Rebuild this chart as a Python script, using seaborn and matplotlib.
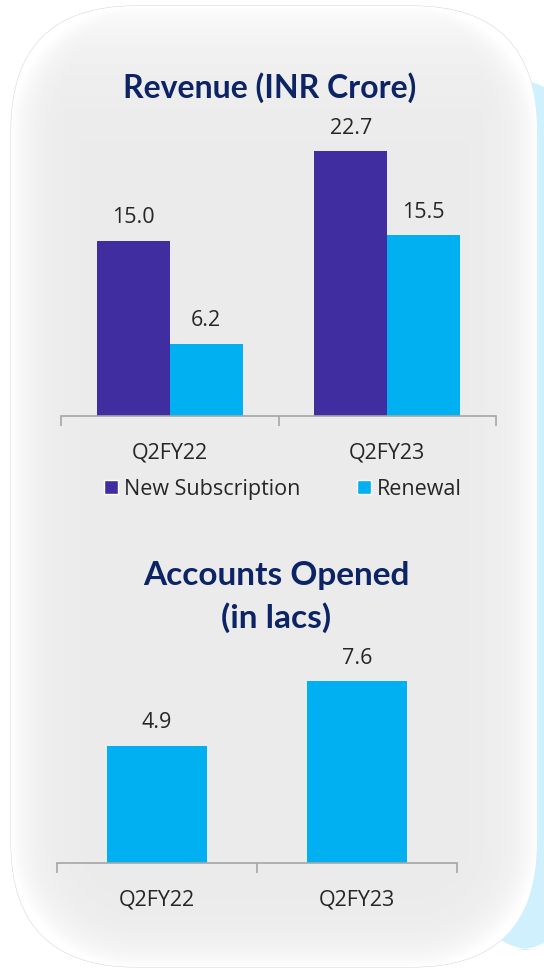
import numpy as np
import pandas as pd
import seaborn as sns
import matplotlib.pyplot as plt
from matplotlib.patches import FancyBboxPatch, Patch

# chart values
quarters = ["Q2FY22", "Q2FY23"]
new_subscription = [15.0, 22.7]
renewal = [6.2, 15.5]
accounts_opened = [4.9, 7.6]
series_names = ["New Subscription", "Renewal"]

PURPLE = "#402EA0"
CYAN = "#00B0F0"
NAVY = "#0C2466"
TEXT = "#262626"
AXIS = "#A6A6A6"

sns.set_theme(style="white")
plt.rcParams["font.family"] = ["Open Sans", "DejaVu Sans"]

W, H = 544, 973
fig = plt.figure(figsize=(W / 100, H / 100), dpi=100)
fig.patch.set_facecolor("white")

# background panel (pixel coordinates)
bg = fig.add_axes([0, 0, 1, 1], zorder=-10)
bg.set_xlim(0, W)
bg.set_ylim(H, 0)
bg.axis("off")

side = FancyBboxPatch((480, 80), 90, 870, boxstyle="round,pad=0,rounding_size=60",
                      facecolor="#CFF0FC", edgecolor="none")
bg.add_patch(side)

x0, y0, x1, y1, r = 11, 6, 537, 967, 125
panel = FancyBboxPatch((x0, y0), x1 - x0, y1 - y0,
                       boxstyle=f"round,pad=0,rounding_size={r}",
                       facecolor="#EBEBEB", edgecolor="#DADADA", linewidth=0.8)
bg.add_patch(panel)

# soft light gradient toward the panel edges
yy, xx = np.mgrid[0:H, 0:W]
cx = np.clip(xx, x0 + r, x1 - r)
cy = np.clip(yy, y0 + r, y1 - r)
d = r - np.hypot(xx - cx, yy - cy)
d_top = yy - y0
glow = np.maximum(np.exp(-np.clip(d, 0, None) / 22.0), 0.9 * np.exp(-np.clip(d_top, 0, None) / 45.0))
val = 0.922 + (1.0 - 0.922) * glow
img = bg.imshow(np.dstack([val, val, val]), extent=(0, W, H, 0), zorder=1)
img.set_clip_path(panel)
panel.set_zorder(0)

# top chart: revenue
df_rev = pd.DataFrame({
    "quarter": quarters * 2,
    "series": [series_names[0]] * 2 + [series_names[1]] * 2,
    "value": new_subscription + renewal,
})

ax1 = fig.add_axes([61 / W, 1 - 416 / H, 435 / W, 316 / H])
sns.barplot(data=df_rev, x="quarter", y="value", hue="series",
            palette=[PURPLE, CYAN], width=0.67, saturation=1, linewidth=0,
            ax=ax1, legend=False)
ax1.set_ylim(0, 316 / 11.67)
ax1.set_xlim(-0.5, 1.5)
for c in ax1.containers:
    ax1.bar_label(c, fmt="%.1f", padding=9, fontsize=15.5, color=TEXT)

ax2 = fig.add_axes([57 / W, 1 - 863 / H, 400 / W, 223 / H])
sns.barplot(x=quarters, y=accounts_opened, color=CYAN, width=0.5,
            saturation=1, linewidth=0, ax=ax2)
ax2.set_ylim(0, 223 / 23.9)
ax2.set_xlim(-0.5, 1.5)
for c in ax2.containers:
    ax2.bar_label(c, fmt="%.1f", padding=9, fontsize=15.5, color=TEXT)

for ax in (ax1, ax2):
    ax.patch.set_alpha(0)
    for s in ["top", "left", "right"]:
        ax.spines[s].set_visible(False)
    ax.spines["bottom"].set_color(AXIS)
    ax.spines["bottom"].set_linewidth(1.2)
    ax.set_yticks([])
    ax.set_xlabel("")
    ax.set_ylabel("")
    ax.set_xticks([-0.5, 0.5, 1.5])
    ax.set_xticklabels([])
    ax.set_xticks([0, 1], minor=True)
    ax.set_xticklabels(quarters, minor=True, fontsize=15.5, color=TEXT)
    ax.tick_params(axis="x", which="major", length=7, width=1.2, color=AXIS, direction="out", bottom=True)
    ax.tick_params(axis="x", which="minor", length=0, pad=19)

# legend for top chart
handles = [Patch(facecolor=PURPLE), Patch(facecolor=CYAN)]
fig.legend(handles, series_names, loc="center", bbox_to_anchor=(283 / W, 1 - 489 / H),
           ncol=2, frameon=False, fontsize=15.5, handlelength=0.65, handleheight=0.65,
           handletextpad=0.3, columnspacing=2.6, labelcolor=TEXT)

fig.text(270 / W, 1 - 88 / H, "Revenue (INR Crore)", ha="center", va="center",
         fontsize=23, fontweight="bold", color=NAVY, family=["Lato", "DejaVu Sans"])
fig.text(276 / W, 1 - 597 / H, "Accounts Opened\n(in lacs)", ha="center", va="center",
         fontsize=24, fontweight="bold", color=NAVY, linespacing=1.45,
         family=["Lato", "DejaVu Sans"])

fig.savefig("out.png", dpi=100)
